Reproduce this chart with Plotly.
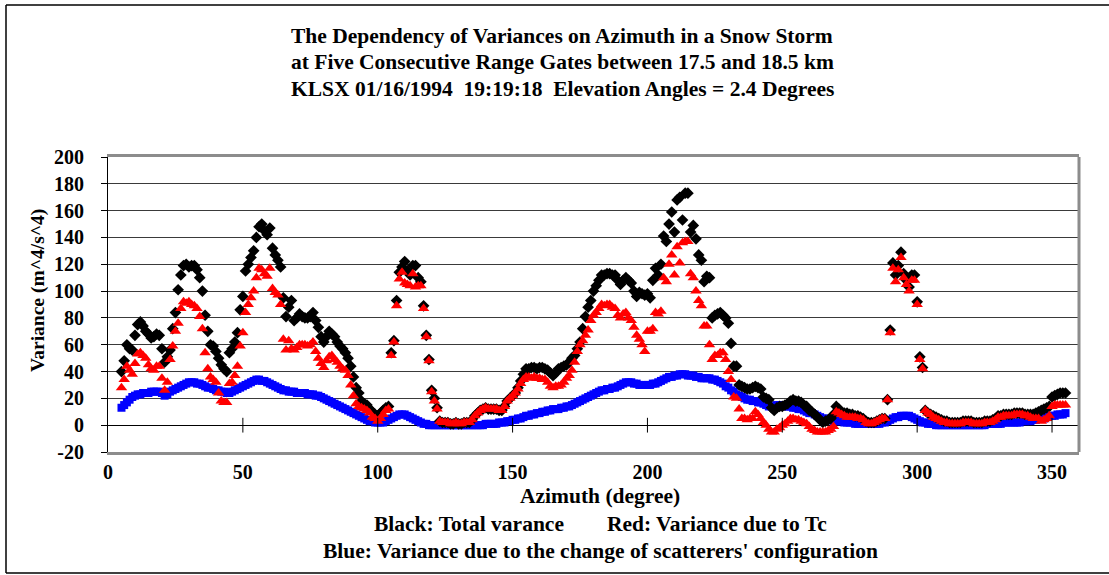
import plotly.graph_objects as go

# ---------------- data ----------------
AZIMUTH = list(range(5, 356))

TOTAL_VARIANCE = [
    40, 48, 60, 57, 56, 67, 75, 77, 74, 70,
    68, 65, 66, 68, 67, 57, 47, 51, 56, 72,
    84, 101, 112, 119, 120, 118, 119, 119, 116, 110,
    100, 82, 70, 60, 59, 55, 50, 45, 42, 40,
    54, 57, 62, 69, 86, 96, 115, 120, 125, 130,
    140, 148, 150, 145, 142, 147, 132, 127, 123, 118,
    95, 81, 88, 93, 78, 80, 83, 81, 80, 80,
    81, 84, 78, 73, 66, 62, 66, 70, 68, 66,
    62, 59, 57, 54, 50, 44, 36, 28, 24, 18,
    16, 15, 12, 10, 8, 7, 9, 11, 13, 14,
    54, 63, 93, 114, 118, 122, 115, 112, 119, 119,
    110, 107, 89, 67, 49, 26, 20, 13, 3, 2,
    2, 2, 1, 1, 2, 1, 1, 2, 2, 2,
    4, 7, 9, 11, 12, 13, 12, 12, 12, 12,
    11, 11, 14, 18, 20, 22, 24, 28, 33, 38,
    42, 42, 43, 43, 42, 43, 43, 42, 41, 39,
    37, 39, 42, 43, 44, 45, 47, 50, 52, 57,
    62, 72, 81, 88, 93, 100, 104, 108, 112, 112,
    113, 113, 112, 112, 108, 105, 108, 110, 108, 106,
    100, 96, 99, 98, 97, 98, 95, 108, 117, 112,
    120, 141, 137, 150, 159, 144, 168, 170, 153, 173,
    173, 144, 149, 139, 127, 123, 107, 111, 110, 80,
    82, 83, 84, 82, 80, 76, 61, 44, 44, 30,
    29, 28, 27, 27, 28, 29, 28, 27, 21, 20,
    19, 13, 11, 13, 14, 14, 15, 16, 18, 19,
    18, 18, 17, 15, 14, 11, 10, 8, 6, 4,
    2, 3, 4, 5, 8, 14, 12, 10, 9, 9,
    8, 8, 7, 7, 6, 5, 3, 2, 2, 2,
    3, 4, 5, 5, 19, 71, 121, 112, 119, 129,
    113, 108, 103, 112, 112, 92, 51, 43, 11, 9,
    8, 7, 6, 5, 4, 3, 3, 2, 2, 2,
    2, 2, 3, 3, 3, 3, 2, 2, 2, 2,
    3, 3, 3, 4, 5, 7, 7, 8, 8, 8,
    8, 9, 9, 9, 9, 8, 8, 8, 8, 9,
    10, 11, 12, 13, 14, 21, 22, 23, 24, 24,
    24,
]

TC_VARIANCE = [
    28, 34, 44, 41, 38, 46, 53, 54, 52, 50,
    45, 42, 41, 44, 44, 35, 26, 32, 49, 59,
    70, 76, 87, 92, 91, 92, 90, 89, 87, 81,
    72, 54, 42, 36, 34, 32, 24, 18, 17, 17,
    31, 32, 37, 44, 59, 69, 84, 90, 95, 100,
    110, 117, 116, 113, 111, 117, 102, 99, 97, 90,
    64, 56, 63, 57, 56, 58, 60, 60, 60, 59,
    60, 62, 55, 50, 46, 43, 48, 51, 52, 49,
    47, 44, 42, 41, 37, 30, 22, 16, 14, 13,
    12, 11, 9, 6, 5, 3, 5, 8, 11, 12,
    52, 62, 89, 109, 114, 106, 105, 104, 113, 103,
    104, 104, 87, 66, 48, 25, 18, 12, 3, 2,
    2, 2, 1, 1, 2, 1, 1, 2, 2, 2,
    4, 7, 9, 11, 12, 13, 12, 12, 12, 12,
    11, 11, 14, 18, 20, 22, 24, 27, 31, 34,
    36, 36, 35, 36, 35, 35, 34, 34, 32, 29,
    28, 29, 29, 30, 32, 35, 37, 41, 47, 55,
    60, 63, 67, 71, 78, 82, 84, 87, 90, 89,
    90, 90, 88, 87, 82, 80, 83, 84, 80, 78,
    73, 67, 64, 60, 55, 70, 70, 72, 84, 83,
    85, 110, 107, 120, 127, 112, 133, 121, 136, 137,
    137, 113, 110, 100, 93, 89, 74, 74, 60, 49,
    52, 52, 54, 54, 49, 40, 34, 21, 20, 12,
    5, 5, 4, 5, 5, 10, 8, 5, 2, 0,
    -3, -5, -5, -3, -2, 0, 1, 3, 5, 5,
    4, 4, 3, 2, 1, -1, -3, -4, -5, -5,
    -5, -5, -4, -3, -1, 10, 9, 8, 7, 6,
    6, 6, 6, 5, 5, 4, 2, 1, 1, 2,
    3, 4, 5, 5, 19, 69, 117, 107, 116, 125,
    110, 105, 100, 108, 108, 90, 49, 42, 11, 9,
    8, 6, 5, 4, 3, 2, 2, 1, 1, 1,
    1, 1, 2, 2, 2, 2, 1, 1, 1, 1,
    2, 2, 2, 3, 4, 6, 6, 7, 7, 7,
    7, 8, 8, 8, 8, 7, 7, 6, 5, 5,
    5, 3, 4, 5, 7, 14, 15, 15, 15, 15,
    15,
]

CONFIG_VARIANCE = [
    13, 15, 17, 19, 21, 22, 23, 23, 24, 24,
    24, 25, 25, 25, 25, 24, 22, 23, 25, 26,
    27, 28, 29, 30, 31, 32, 32, 32, 31, 31,
    30, 29, 28, 28, 27, 26, 26, 25, 25, 24,
    24, 25, 26, 27, 28, 29, 30, 31, 32, 33,
    34, 34, 33, 33, 32, 31, 30, 29, 28, 27,
    26, 26, 25, 25, 25, 24, 24, 24, 24, 23,
    23, 23, 22, 22, 21, 20, 19, 18, 17, 16,
    15, 14, 13, 12, 11, 10, 9, 8, 7, 6,
    5, 4, 3, 3, 2, 2, 2, 2, 3, 4,
    5, 6, 7, 8, 8, 8, 7, 6, 5, 4,
    3, 2, 1, 1, 0, 0, 0, 0, 0, 0,
    0, 0, 0, 0, 0, 0, 0, 0, 0, 0,
    0, 0, 0, 0, 0, 1, 1, 1, 1, 1,
    2, 2, 2, 3, 3, 4, 4, 5, 5, 6,
    7, 7, 8, 8, 9, 9, 10, 10, 11, 11,
    12, 12, 12, 13, 13, 14, 14, 15, 16, 17,
    18, 19, 20, 21, 22, 23, 24, 25, 26, 26,
    27, 27, 28, 28, 29, 30, 31, 32, 32, 32,
    31, 31, 30, 30, 30, 30, 30, 31, 31, 32,
    33, 34, 35, 36, 36, 37, 37, 38, 38, 38,
    37, 37, 37, 36, 36, 35, 35, 35, 35, 34,
    34, 33, 32, 31, 29, 28, 26, 25, 23, 22,
    21, 20, 19, 19, 18, 18, 17, 17, 16, 15,
    14, 14, 14, 15, 15, 15, 14, 14, 14, 13,
    13, 12, 12, 11, 10, 9, 9, 8, 7, 6,
    5, 5, 4, 4, 3, 3, 3, 3, 2, 2,
    2, 2, 1, 1, 1, 1, 1, 1, 1, 1,
    1, 1, 2, 2, 3, 4, 5, 6, 6, 7,
    7, 7, 7, 6, 5, 4, 3, 2, 2, 1,
    1, 1, 0, 0, 0, 0, 0, 0, 0, 0,
    0, 0, 0, 0, 0, 0, 0, 0, 0, 0,
    0, 1, 1, 1, 1, 1, 1, 2, 2, 2,
    2, 2, 2, 2, 3, 3, 3, 3, 4, 4,
    5, 5, 5, 6, 7, 7, 7, 8, 8, 8,
    9,
]

X_TICKS = [0, 50, 100, 150, 200, 250, 300, 350]
X_TICK_LABELS = ["0", "50", "100", "150", "200", "250", "300", "350"]
Y_TICKS = [-20, 0, 20, 40, 60, 80, 100, 120, 140, 160, 180, 200]
Y_TICK_LABELS = ["-20", "0", "20", "40", "60", "80", "100", "120", "140", "160", "180", "200"]

TITLE_LINES = [
    "The Dependency of Variances on Azimuth in a Snow Storm",
    "at Five Consecutive Range Gates between 17.5 and 18.5 km",
    "KLSX 01/16/1994\u00a0\u00a019:19:18\u00a0\u00a0Elevation Angles = 2.4 Degrees",
]
X_TITLE = "Azimuth (degree)"
Y_TITLE = "Variance (m^4/s^4)"
NOTE_1 = "Black: Total varance" + "\u00a0" * 8 + "Red: Variance due to Tc"
NOTE_2 = "Blue: Variance due to the change of scatterers' configuration"

# ---------------- figure ----------------
W, H = 1109, 575
L, R, T, B = 108, 30, 157, 123
PW, PH = W - L - R, H - T - B


def px_x(p):
    return (p - L) / PW


def px_y(p):
    return (H - B - p) / PH


def bold(s):
    return "<b>" + s + "</b>"


FONT = "Liberation Serif"

fig = go.Figure()
fig.add_trace(go.Scatter(
    x=AZIMUTH, y=CONFIG_VARIANCE, mode="markers", name="Blue",
    marker=dict(symbol="square", size=8, color="#0000ff", line=dict(width=0)),
))
fig.add_trace(go.Scatter(
    x=AZIMUTH, y=TOTAL_VARIANCE, mode="markers", name="Black",
    marker=dict(symbol="diamond", size=9, color="#000000", line=dict(width=0)),
))
fig.add_trace(go.Scatter(
    x=AZIMUTH, y=TC_VARIANCE, mode="markers", name="Red",
    marker=dict(symbol="triangle-up", size=10, color="#ff0000", line=dict(width=0)),
))

shapes = []
# tick marks crossing the zero line
for t in X_TICKS[1:]:
    shapes.append(dict(type="line", xref="x", yref="y", x0=t, x1=t, y0=-5.5, y1=5.5,
                       line=dict(color="black", width=1)))
# plot-area right border
shapes.append(dict(type="line", xref="paper", yref="paper", x0=1, x1=1, y0=0, y1=1,
                   line=dict(color="#8c8c8c", width=3)))
# outer chart border
shapes.append(dict(type="line", xref="paper", yref="paper",
                   x0=px_x(6), x1=px_x(6), y0=px_y(5), y1=px_y(573),
                   line=dict(color="black", width=1.5)))
shapes.append(dict(type="line", xref="paper", yref="paper",
                   x0=px_x(6), x1=px_x(1115), y0=px_y(5), y1=px_y(5),
                   line=dict(color="black", width=1.5)))
shapes.append(dict(type="line", xref="paper", yref="paper",
                   x0=px_x(6), x1=px_x(1115), y0=px_y(573), y1=px_y(573),
                   line=dict(color="black", width=1.5)))

annotations = []
for line, yc in zip(TITLE_LINES, [36, 62, 89]):
    annotations.append(dict(text=bold(line), xref="paper", yref="paper", x=px_x(562), y=px_y(yc),
                            xanchor="center", yanchor="middle", showarrow=False,
                            font=dict(family=FONT, size=21.5, color="black")))
annotations.append(dict(text=bold(Y_TITLE), xref="paper", yref="paper", x=px_x(38), y=px_y(291),
                        xanchor="center", yanchor="middle", textangle=-90, showarrow=False,
                        font=dict(family=FONT, size=19.5, color="black")))
for line, yc in zip([X_TITLE, NOTE_1, NOTE_2], [496, 524, 551]):
    annotations.append(dict(text=bold(line), xref="paper", yref="paper", x=px_x(600), y=px_y(yc),
                            xanchor="center", yanchor="middle", showarrow=False,
                            font=dict(family=FONT, size=21.5, color="black")))

fig.update_layout(
    width=W, height=H,
    margin=dict(l=L, r=R, t=T, b=B, pad=0),
    paper_bgcolor="white", plot_bgcolor="white",
    showlegend=False,
    shapes=shapes, annotations=annotations,
    font=dict(family=FONT, color="black"),
    xaxis=dict(
        range=[0, 360], tickvals=X_TICKS, ticktext=[bold(s) for s in X_TICK_LABELS],
        ticks="", showgrid=False, zeroline=False,
        showline=True, linecolor="#8c8c8c", linewidth=3, mirror=True,
        tickfont=dict(family=FONT, size=20, color="black"),
        ticklabelstandoff=0,
    ),
    yaxis=dict(
        range=[-20, 200], tickvals=Y_TICKS, ticktext=[bold(s) for s in Y_TICK_LABELS],
        ticks="outside", ticklen=6, tickcolor="black",
        showgrid=True, gridcolor="#3a3a3a", gridwidth=1,
        zeroline=True, zerolinecolor="black", zerolinewidth=1,
        showline=True, linecolor="black", linewidth=1,
        tickfont=dict(family=FONT, size=20, color="black"),
        ticklabelstandoff=13,
    ),
)

fig.write_html("out.html")
